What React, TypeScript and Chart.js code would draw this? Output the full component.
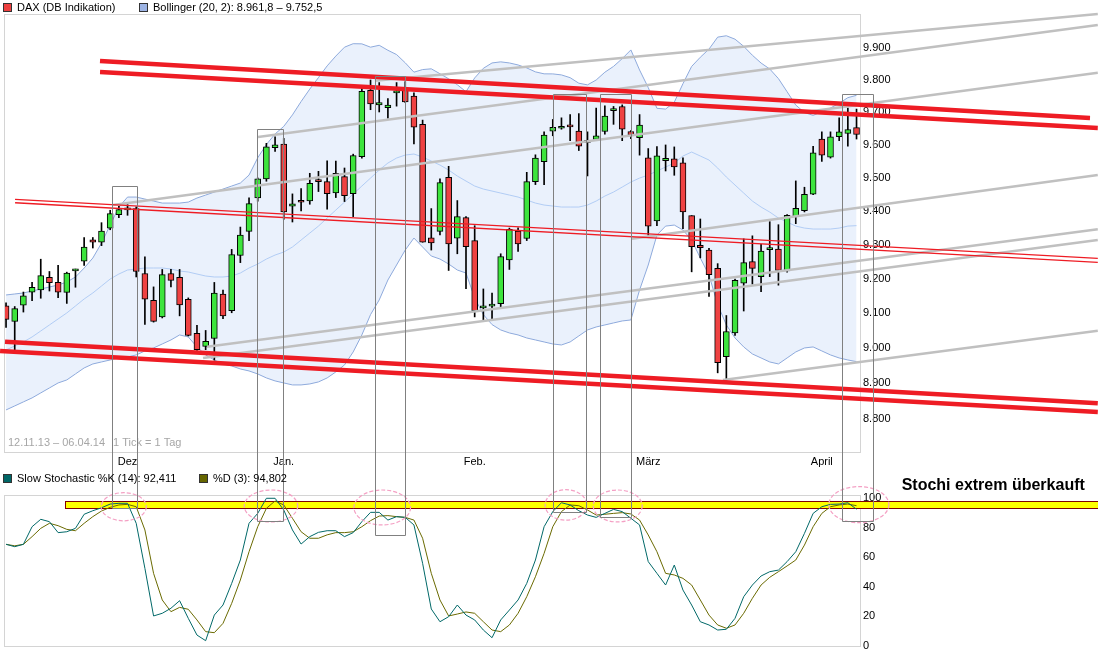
import { useEffect, useRef } from 'react';
import { Chart, registerables } from 'chart.js';

Chart.register(...registerables);

// ---------- data (index = trading day, 12.11.13 .. 04.04.14) ----------
const opens = [9122,9077,9124,9162,9168,9205,9190,9161,9224,9252, 9315,9308,9350,9390,9404,9408,9216,9138,9090,9216, 9205,9141,9043,9005,9028,9156,9108,9269,9340,9440, 9497,9592,9603,9415,9433,9431,9491,9489,9455,9504, 9453,9564,9768,9723,9714,9760,9773,9750,9663,9321, 9340,9502,9320,9381,9313,9116,9121,9128,9256,9341, 9319,9489,9549,9642,9651,9661,9642,9608,9617,9641, 9705,9718,9641,9622,9561,9371,9552,9558,9546,9387, 9299,9285,9231,8976,9044,9188,9251,9207,9286,9288, 9224,9384,9402,9451,9618,9563,9625,9635,9653];
const highs = [9131,9120,9162,9190,9258,9222,9240,9220,9229,9322, 9322,9366,9403,9415,9420,9413,9265,9177,9228,9228, 9228,9145,9066,9051,9190,9168,9287,9353,9440,9500, 9605,9625,9620,9452,9468,9514,9520,9552,9551,9530, 9572,9776,9800,9792,9742,9792,9795,9760,9676,9408, 9497,9535,9432,9384,9357,9171,9159,9274,9350,9351, 9517,9570,9640,9678,9683,9693,9696,9640,9713,9720, 9718,9723,9644,9693,9589,9595,9600,9594,9561,9387, 9377,9290,9245,9094,9200,9318,9327,9302,9369,9360, 9390,9491,9472,9596,9640,9640,9683,9713,9710];
const lows = [9060,8995,9104,9137,9144,9165,9146,9129,9176,9240, 9291,9298,9345,9381,9388,9206,9068,9075,9087,9177, 9093,9035,8994,8996,8966,9085,9102,9248,9313,9430, 9490,9580,9376,9368,9401,9421,9459,9406,9441,9429, 9384,9560,9708,9701,9682,9719,9730,9603,9308,9285, 9330,9225,9274,9172,9090,9082,9085,9118,9228,9281, 9313,9480,9480,9628,9648,9613,9583,9506,9613,9633, 9663,9613,9619,9569,9329,9357,9521,9508,9348,9221, 9262,9149,8930,8904,9037,9107,9185,9163,9207,9182, 9220,9363,9398,9450,9550,9560,9613,9596,9618];
const closes = [9083,9114,9151,9176,9210,9189,9162,9217,9225,9294, 9308,9341,9393,9405,9406,9222,9141,9077,9213,9196, 9125,9037,8996,9020,9159,9093,9272,9329,9423,9497, 9594,9600,9398,9422,9427,9484,9489,9453,9514,9447, 9568,9765,9726,9730,9722,9762,9732,9654,9308,9306, 9486,9303,9384,9295,9108,9122,9123,9266,9346,9303, 9489,9560,9630,9654,9657,9655,9596,9610,9628,9688, 9707,9648,9630,9661,9356,9567,9559,9533,9398,9295, 9292,9213,8959,9048,9196,9248,9231,9282,9288,9225, 9388,9409,9451,9576,9569,9625,9640,9647,9632];

const bbUpper = [9153.5,9156.4,9159.3,9165.1,9170.9,9176.7,9182.6,9191.3,9205.9,9232.1, 9261.5,9305.6,9359.0,9412.6,9442.5,9442.5,9436.5,9430.5,9424.5,9424.5, 9424.5,9427.5,9439.5,9448.5,9457.5,9466.5,9475.6,9484.6,9508.7,9560.9, 9601.4,9633.5,9656.8,9692.0,9733.2,9771.8,9807.5,9844.0,9874.7,9902.6, 9913.6,9913.1,9902.6,9908.6,9892.9,9879.4,9853.6,9824.4,9832.5,9834.8, 9819.5,9803.7,9785.1,9763.7,9806.4,9836.4,9853.2,9856.6,9853.2,9846.9, 9837.6,9825.3,9819.2,9819.0,9815.8,9807.2,9790.0,9784.8,9800.0,9824.2, 9842.4,9866.7,9894.0,9831.2,9776.4,9712.3,9709.9,9731.1,9788.5,9842.3, 9871.1,9896.5,9934.3,9938.6,9927.8,9905.3,9877.3,9852.9,9834.3,9804.4, 9763.5,9722.4,9699.2,9690.5,9701.9,9713.3,9727.7,9745.2,9752.5];
const bbMiddle = [8995.1,9006.5,9018.0,9032.3,9049.5,9066.8,9084.1,9101.4,9121.6,9141.9, 9159.3,9179.6,9200.0,9214.6,9226.3,9229.2,9232.2,9232.2,9232.2,9229.2, 9223.4,9220.5,9214.6,9208.8,9205.9,9205.9,9208.8,9217.5,9232.2,9243.9, 9258.5,9270.3,9279.1,9293.9,9314.5,9335.2,9355.9,9379.8,9403.6,9427.5, 9451.5,9475.6,9499.6,9523.8,9545.0,9560.2,9569.3,9572.4,9563.2,9551.1, 9539.0,9523.8,9505.7,9490.6,9475.6,9466.5,9460.5,9454.5,9448.5,9442.5, 9433.5,9424.5,9418.6,9415.6,9412.6,9412.6,9412.6,9418.6,9430.5,9445.5, 9457.5,9472.5,9487.6,9499.6,9508.7,9520.8,9532.9,9545.0,9566.3,9578.4, 9566.3,9554.1,9529.9,9502.7,9478.6,9454.5,9430.5,9412.6,9397.6,9379.8, 9367.9,9355.9,9350.0,9347.1,9347.1,9347.1,9350.0,9355.9,9357.2];
const bbLower = [8825.5,8836.7,8848.0,8859.2,8873.3,8887.3,8901.4,8909.9,8926.9,8943.9, 8955.2,8960.9,8966.6,8972.3,8975.2,8980.9,8992.3,9000.8,9012.2,9023.7, 9038.1,9032.3,9003.7,8980.9,8966.6,8955.2,8949.5,8941.0,8935.4,8926.9, 8915.6,8907.1,8901.4,8895.8,8895.8,8898.6,8904.3,8915.6,8932.5,8952.4, 8989.4,9038.1,9096.6,9139.0,9197.1,9241.0,9285.0,9320.4,9293.9,9267.4, 9258.5,9243.9,9226.3,9217.5,9144.8,9096.6,9067.8,9052.4,9043.8,9038.1, 9029.4,9023.7,9018.0,9012.2,9009.4,9018.0,9035.2,9052.4,9061.0,9066.8, 9072.6,9078.3,9081.2,9168.0,9241.0,9329.3,9355.9,9358.9,9344.1,9314.5, 9261.5,9211.7,9125.5,9066.8,9029.4,9003.7,8983.7,8972.3,8960.9,8955.2, 8972.3,8989.4,9000.8,9003.7,8992.3,8980.9,8972.3,8966.6,8961.8];

const stochK = [68.7,67.1,68.7,80.6,85.6,84.0,76.6,77.2,79.5,89.0, 91.4,93.4,95.9,96.4,96.4,82.9,52.5,20.3,22.1,25.5, 30.6,18.7,7.4,3.6,20.9,27.7,42.3,58.1,82.9,89.6, 99.8,99.8,91.9,78.4,68.9,73.9,76.8,77.9,77.9,73.9, 76.6,84.0,90.3,90.3,85.1,87.4,86.9,81.8,55.9,25.0, 16.4,19.8,27.7,20.9,17.6,10.8,5.6,17.6,24.3,31.1, 42.3,58.1,80.6,90.8,96.8,95.3,91.4,88.5,86.9,89.6, 92.3,90.8,86.3,81.8,57.0,49.1,41.2,54.7,37.8,27.7, 16.4,14.2,10.8,11.3,18.7,33.3,41.2,47.3,50.2,51.3, 57.0,63.7,76.1,89.6,94.1,95.7,95.9,96.8,92.411];
const stochD = [68.7,67.7,68.7,73.9,79.5,82.9,81.3,78.8,77.9,82.9, 87.4,91.2,93.7,95.3,95.7,94.1,78.4,49.1,31.1,23.2, 26.1,24.8,17.6,9.7,9.0,15.3,28.8,44.6,63.7,80.6, 93.0,98.0,95.3,86.3,77.2,72.8,72.8,75.1,76.6,76.6, 77.2,80.6,84.7,87.8,88.1,87.4,86.9,85.1,72.8,49.1, 31.1,20.3,21.6,23.0,22.1,16.4,10.8,9.7,14.2,22.1, 33.3,46.8,62.6,80.6,90.8,95.3,94.8,91.9,88.5,89.0, 89.6,90.1,89.2,85.1,75.0,63.7,49.1,48.0,45.7,41.2, 31.1,20.9,14.2,12.0,14.2,22.1,32.2,41.2,46.4,50.2, 54.1,58.1,68.2,80.6,89.6,94.1,95.3,95.9,94.802];

const monthTicks = [14, 32, 54, 74, 94];
const monthLabels = ['Dez', 'Jan.', 'Feb.', 'März', 'April'];
const priceTicks = [8800, 8900, 9000, 9100, 9200, 9300, 9400, 9500, 9600, 9700, 9800, 9900];
const stochTicks = [0, 20, 40, 60, 80, 100];

// trend lines: [index1, price1, index2, price2]
const redThick = [
  [10.83, 9859.5, 124.9, 9682.4],
  [10.83, 9824.9, 125.8, 9651.7],
  [-0.115, 9018.7, 125.8, 8844.0],
  [-0.69, 8992.1, 125.8, 8819.6],
];
const redThin = [
  [1.04, 9435.7, 125.8, 9260.6],
  [1.04, 9425.5, 125.8, 9248.9],
];
const grayLines = [
  [42.51, 9797.7, 125.8, 10007.4],
  [12.33, 9418.6, 125.8, 9822.7],
  [29.03, 9624.2, 125.8, 9972.5],
  [72.12, 9318.2, 125.8, 9508.9],
  [23.16, 9004.4, 125.8, 9346.3],
  [22.70, 8972.1, 125.8, 9314.6],
  [82.6, 8909.7, 125.8, 9050.1],
];
// highlight boxes: [fromIndex, toIndex, topPrice, bottomStoch]
const boxes = [
  [12.25, 15.13, 9475.7, 93.0],
  [28.95, 31.95, 9648.6, 84.7],
  [42.55, 46.0, 9812.4, 75.0],
  [63.05, 66.8, 9755.0, 90.3],
  [68.43, 71.97, 9755.0, 87.0],
  [96.28, 99.92, 9756.5, 84.7],
];
// ellipses: [centerIndex, centerStoch, radiusIndex, radiusStoch]
const ellipses = [
  [13.56, 94.1, 2.6, 9.5],
  [30.53, 94.6, 3.08, 10.8],
  [43.35, 93.6, 3.26, 11.8],
  [64.52, 95.3, 2.4, 10.3],
  [70.48, 94.6, 2.82, 10.8],
  [98.27, 95.5, 3.46, 12.2],
];
const overbought = [6.8, 125.8, 93.5, 98.3];
const noteText = 'Stochi extrem überkauft';
const notePos = [103.2, 105.7];

// ---------- helpers ----------
const FONT = '"Liberation Sans", Arial, sans-serif';
const X_MIN = -0.12;
const X_MAX = 98.4;
const last = closes.length - 1;
const idx = closes.map((_, i) => i);

function fmtDe(v: number, dec: number) {
  const [i, d] = v.toFixed(dec).split('.');
  const int = i.replace(/\B(?=(\d{3})+(?!\d))/g, '.');
  return d ? int + ',' + d : int;
}

function seg(s: number[], color: string, width: number, order: number) {
  return {
    type: 'line',
    data: [{ x: s[0], y: s[1] }, { x: s[2], y: s[3] }],
    borderColor: color,
    borderWidth: width,
    pointRadius: 0,
    fill: false,
    tension: 0,
    order,
    clip: { left: 6, top: 3, right: 240, bottom: 0 },
  };
}

function legendItem(ctx: CanvasRenderingContext2D, x: number, y: number, color: string, text: string) {
  ctx.fillStyle = color;
  ctx.fillRect(x, y, 9, 9);
  ctx.strokeStyle = '#333';
  ctx.lineWidth = 1;
  ctx.strokeRect(x + 0.5, y + 0.5, 8, 8);
  ctx.fillStyle = '#000';
  ctx.font = `11px ${FONT}`;
  ctx.textAlign = 'left';
  ctx.textBaseline = 'middle';
  ctx.fillText(text, x + 14, y + 5);
}

const snap = (v: number) => Math.round(v) + 0.5;

export default function App() {
  const mainRef = useRef<HTMLCanvasElement>(null);
  const stochRef = useRef<HTMLCanvasElement>(null);

  useEffect(() => {
    const mainDecor = {
      id: 'mainDecor',
      beforeDatasetsDraw(chart: any) {
        const { ctx, chartArea: a } = chart;
        ctx.save();
        ctx.strokeStyle = '#d4d4d4';
        ctx.lineWidth = 1;
        ctx.strokeRect(a.left - 0.5, a.top - 0.5, a.right - a.left + 1, a.bottom - a.top + 1);
        ctx.fillStyle = '#a6a6a6';
        ctx.font = `11px ${FONT}`;
        ctx.textBaseline = 'middle';
        ctx.fillText('12.11.13 – 06.04.14', a.left + 3, a.bottom - 9);
        ctx.fillText('1 Tick = 1 Tag', a.left + 108, a.bottom - 9);
        ctx.restore();
      },
      afterDatasetsDraw(chart: any) {
        const { ctx } = chart;
        const xs = chart.scales.x;
        const ys = chart.scales.y;
        ctx.save();
        ctx.strokeStyle = '#808080';
        ctx.lineWidth = 1;
        boxes.forEach((b) => {
          const x1 = snap(xs.getPixelForValue(b[0]));
          const x2 = snap(xs.getPixelForValue(b[1]));
          const yt = snap(ys.getPixelForValue(b[2]));
          ctx.beginPath();
          ctx.moveTo(x1, chart.height);
          ctx.lineTo(x1, yt);
          ctx.lineTo(x2, yt);
          ctx.lineTo(x2, chart.height);
          ctx.stroke();
        });
        legendItem(ctx, 3, 3, '#ee4040', 'DAX (DB Indikation)');
        legendItem(ctx, 139, 3, '#9db4e4', `Bollinger (20, 2): ${fmtDe(bbLower[last], 1)} – ${fmtDe(bbUpper[last], 1)}`);
        ctx.restore();
      },
    };

    const stochDecor = {
      id: 'stochDecor',
      beforeDatasetsDraw(chart: any) {
        const { ctx, chartArea: a } = chart;
        const xs = chart.scales.x;
        const ys = chart.scales.y;
        ctx.save();
        ctx.strokeStyle = '#d4d4d4';
        ctx.lineWidth = 1;
        ctx.strokeRect(a.left - 0.5, a.top - 0.5, a.right - a.left + 1, a.bottom - a.top + 1);
        const x1 = Math.round(xs.getPixelForValue(overbought[0]));
        const x2 = Math.round(xs.getPixelForValue(overbought[1]));
        const y1 = Math.round(ys.getPixelForValue(overbought[3]));
        const y2 = Math.round(ys.getPixelForValue(overbought[2]));
        ctx.fillStyle = '#ffff00';
        ctx.fillRect(x1, y1, x2 - x1, y2 - y1);
        ctx.strokeStyle = '#800000';
        ctx.strokeRect(x1 + 0.5, y1 + 0.5, x2 - x1, y2 - y1);
        ctx.restore();
      },
      afterDatasetsDraw(chart: any) {
        const { ctx } = chart;
        const xs = chart.scales.x;
        const ys = chart.scales.y;
        ctx.save();
        ctx.strokeStyle = '#f4a0c4';
        ctx.lineWidth = 1.2;
        ctx.setLineDash([4, 2]);
        ellipses.forEach((e) => {
          const cx = xs.getPixelForValue(e[0]);
          const cy = ys.getPixelForValue(e[1]);
          const rx = Math.abs(xs.getPixelForValue(e[0] + e[2]) - cx);
          const ry = Math.abs(ys.getPixelForValue(e[1] + e[3]) - cy);
          ctx.beginPath();
          ctx.ellipse(cx, cy, rx, ry, 0, 0, Math.PI * 2);
          ctx.stroke();
        });
        ctx.setLineDash([]);
        ctx.lineWidth = 1;
        ctx.strokeStyle = '#808080';
        boxes.forEach((b) => {
          const x1 = snap(xs.getPixelForValue(b[0]));
          const x2 = snap(xs.getPixelForValue(b[1]));
          const yb = snap(ys.getPixelForValue(b[3]));
          ctx.beginPath();
          ctx.moveTo(x1, 0);
          ctx.lineTo(x1, yb);
          ctx.lineTo(x2, yb);
          ctx.lineTo(x2, 0);
          ctx.stroke();
        });
        ctx.fillStyle = '#000';
        ctx.font = `bold 16px ${FONT}`;
        ctx.textAlign = 'left';
        ctx.textBaseline = 'alphabetic';
        ctx.fillText(noteText, xs.getPixelForValue(notePos[0]), ys.getPixelForValue(notePos[1]));
        legendItem(ctx, 3, 4, '#006666', `Slow Stochastic %K (14): ${fmtDe(stochK[last], 3)}`);
        legendItem(ctx, 199, 4, '#666600', `%D (3): ${fmtDe(stochD[last], 3)}`);
        ctx.restore();
      },
    };

    const bodyColors = idx.map((i) => (closes[i] >= opens[i] ? '#3de43d' : '#ef4242'));

    const mainChart = new Chart(mainRef.current as HTMLCanvasElement, {
      type: 'bar',
      data: {
        datasets: [
          ...redThick.map((s) => seg(s, '#ee1c24', 4.5, 0.1)),
          ...redThin.map((s) => seg(s, '#ee1c24', 1.3, 0.1)),
          ...grayLines.map((s) => seg(s, '#c0c0c0', 2.6, 0.2)),
          {
            type: 'bar',
            data: idx.map((i) => ({ x: i, y: [opens[i], closes[i]] })),
            backgroundColor: bodyColors,
            borderColor: '#000',
            borderWidth: 1,
            borderSkipped: false,
            barThickness: 6,
            minBarLength: 2,
            grouped: false,
            order: 1,
          },
          {
            type: 'bar',
            data: idx.map((i) => ({ x: i, y: [lows[i], highs[i]] })),
            backgroundColor: '#000',
            borderWidth: 0,
            barThickness: 1,
            grouped: false,
            order: 2,
          },
          {
            type: 'line',
            data: idx.map((i) => ({ x: i, y: bbMiddle[i] })),
            borderColor: '#b2cdf5',
            borderWidth: 1,
            pointRadius: 0,
            fill: false,
            order: 3,
          },
          {
            type: 'line',
            data: idx.map((i) => ({ x: i, y: bbUpper[i] })),
            borderColor: '#8eaadc',
            borderWidth: 1,
            pointRadius: 0,
            fill: false,
            order: 4,
          },
          {
            type: 'line',
            data: idx.map((i) => ({ x: i, y: bbLower[i] })),
            borderColor: '#8eaadc',
            borderWidth: 1,
            pointRadius: 0,
            fill: '-1',
            backgroundColor: '#eaf1fc',
            order: 5,
          },
        ] as any,
      },
      options: {
        responsive: false,
        animation: false,
        events: [],
        layout: { padding: { left: 5, top: 15, right: 0, bottom: 0 } },
        plugins: { legend: { display: false }, tooltip: { enabled: false } },
        scales: {
          x: {
            type: 'linear',
            min: X_MIN,
            max: X_MAX,
            offset: false,
            bounds: 'data',
            grid: { display: false, drawTicks: false },
            border: { display: false },
            afterBuildTicks: (s: any) => { s.ticks = monthTicks.map((v) => ({ value: v })); },
            afterFit: (s: any) => { s.height = 18; },
            ticks: {
              autoSkip: false,
              maxRotation: 0,
              padding: 3,
              color: '#000',
              font: { family: FONT, size: 11 },
              callback: (v: any) => monthLabels[monthTicks.indexOf(Number(v))] ?? '',
            },
          },
          y: {
            type: 'logarithmic',
            position: 'right',
            min: 8708.4,
            max: 10004.3,
            bounds: 'data',
            grid: { display: false, drawTicks: false },
            border: { display: false },
            afterBuildTicks: (s: any) => { s.ticks = priceTicks.map((v) => ({ value: v })); },
            afterFit: (s: any) => { s.width = 238; },
            ticks: {
              autoSkip: false,
              padding: 3,
              color: '#000',
              font: { family: FONT, size: 11 },
              callback: (v: any) => fmtDe(Number(v), 0),
            },
          },
        },
      } as any,
      plugins: [mainDecor],
    });

    const stochChart = new Chart(stochRef.current as HTMLCanvasElement, {
      type: 'line',
      data: {
        datasets: [
          {
            data: idx.map((i) => ({ x: i, y: stochK[i] })),
            borderColor: '#006868',
            borderWidth: 1,
            pointRadius: 0,
            fill: false,
            order: 1,
          },
          {
            data: idx.map((i) => ({ x: i, y: stochD[i] })),
            borderColor: '#6a6a00',
            borderWidth: 1,
            pointRadius: 0,
            fill: false,
            order: 2,
          },
        ],
      },
      options: {
        responsive: false,
        animation: false,
        events: [],
        layout: { padding: { left: 5, top: 26, right: 0, bottom: 11 } },
        plugins: { legend: { display: false }, tooltip: { enabled: false } },
        scales: {
          x: { type: 'linear', min: X_MIN, max: X_MAX, display: false },
          y: {
            type: 'linear',
            position: 'right',
            min: 0,
            max: 101.35,
            bounds: 'data',
            grid: { display: false, drawTicks: false },
            border: { display: false },
            afterBuildTicks: (s: any) => { s.ticks = stochTicks.map((v) => ({ value: v })); },
            afterFit: (s: any) => { s.width = 238; },
            ticks: {
              autoSkip: false,
              padding: 3,
              color: '#000',
              font: { family: FONT, size: 11 },
              callback: (v: any) => String(v),
            },
          },
        },
      } as any,
      plugins: [stochDecor],
    });

    return () => {
      mainChart.destroy();
      stochChart.destroy();
    };
  }, []);

  return (
    <div style={{ position: 'absolute', left: 0, top: 0, width: 1098, height: 657, background: '#fff', overflow: 'hidden' }}>
      <canvas ref={mainRef} width={1098} height={470} style={{ position: 'absolute', left: 0, top: 0, width: 1098, height: 470 }} />
      <canvas ref={stochRef} width={1098} height={187} style={{ position: 'absolute', left: 0, top: 470, width: 1098, height: 187 }} />
    </div>
  );
}
